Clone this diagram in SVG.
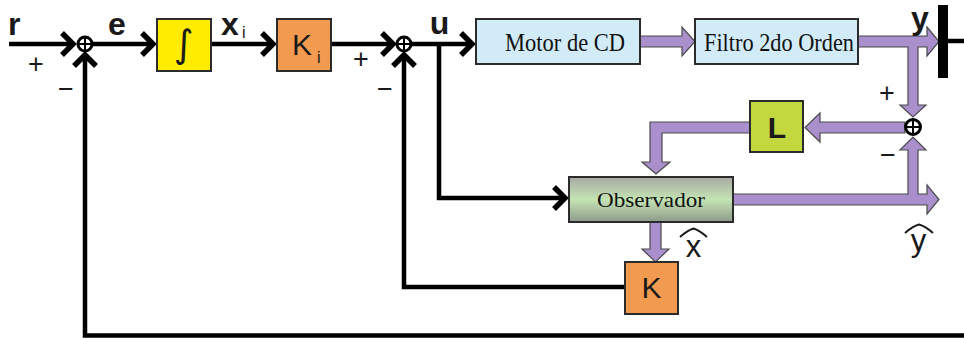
<svg xmlns="http://www.w3.org/2000/svg" width="964" height="340" viewBox="0 0 964 340">
  <style>
    .wire { fill: none; stroke: #000; stroke-width: 4.5; }
    .band { fill: #A98FCC; stroke: #4a4a4a; stroke-width: 1.2; stroke-linejoin: miter; }
    .box { stroke: #2b2b2b; stroke-width: 2; }
    .sum { fill: #fff; stroke: #000; stroke-width: 3; }
    .cross { stroke: #000; stroke-width: 2; }
    .sig { font-family: "Liberation Sans", Arial, sans-serif; font-weight: bold; font-size: 32px; fill: #1a1a1a; }
    .sign { font-family: "Liberation Sans", Arial, sans-serif; font-size: 27px; fill: #1a1a1a; text-anchor: middle; }
    .gain { font-family: "Liberation Sans", Arial, sans-serif; font-size: 30px; fill: #1a1a1a; }
    .sub { font-family: "Liberation Sans", Arial, sans-serif; font-size: 16px; fill: #1a1a1a; }
    .block { font-family: "Liberation Serif", "Times New Roman", serif; fill: #111; text-anchor: middle; }
    .hat { fill: none; stroke: #1a1a1a; stroke-width: 2; }
  </style>
  <defs>
    <marker id="chev" markerUnits="userSpaceOnUse" viewBox="-16 -16 20 32" refX="0" refY="0" markerWidth="20" markerHeight="32" orient="auto" overflow="visible">
      <path d="M-11,-11 L0,0 L-11,11" fill="none" stroke="#000" stroke-width="5.5" stroke-linejoin="miter"/>
    </marker>
    <linearGradient id="obsFill" x1="0" y1="0" x2="0" y2="1">
      <stop offset="0" stop-color="#A8A8A3"/>
      <stop offset="0.5" stop-color="#C4E4B4"/>
      <stop offset="1" stop-color="#8E9A8A"/>
    </linearGradient>
  </defs>

  <!-- connectors -->
  <g id="connectors">
    <path class="wire" d="M9,44 H73" marker-end="url(#chev)"/>
    <path class="wire" d="M92,44 H153" marker-end="url(#chev)"/>
    <path class="wire" d="M211,44 H273" marker-end="url(#chev)"/>
    <path class="wire" d="M331,44 H393" marker-end="url(#chev)"/>
    <path class="wire" d="M411,44 H472" marker-end="url(#chev)"/>
    <path class="wire" d="M439,44 V198 H565" marker-end="url(#chev)"/>
    <path class="wire" d="M625,287 H404 V55" marker-end="url(#chev)"/>
    <path class="wire" d="M964,335.5 H85 V55" marker-end="url(#chev)"/>
    <path class="wire" d="M948,41 H964"/>

    <!-- signal bands -->
    <polygon class="band" points="640,36 682,36 682,27 695,41.5 682,56 682,47 640,47"/>
    <polygon class="band" points="858,36 927,36 927,27 939,41.5 927,56 927,47 918,47 918,105 926,105 913,117 900,105 908,105 908,47 858,47"/>
    <polygon class="band" points="905,122 820,122 820,113 805,127.5 820,142 820,133 905,133"/>
    <polygon class="band" points="750,122 650,122 650,162 642,162 656,174 670,162 662,162 662,133 750,133"/>
    <polygon class="band" points="733,194 908,194 908,150 900,150 913,137 926,150 918,150 918,194 927,194 927,185 939,199.5 927,214 927,205 733,205"/>
    <polygon class="band" points="650,222 661,222 661,249 669,249 655.5,262 642,249 650,249"/>
  </g>

  <!-- output bar -->
  <rect x="938" y="5" width="10" height="73" fill="#000"/>

  <!-- summing junctions -->
  <g id="sum1">
    <circle class="sum" cx="85" cy="44" r="7"/>
    <path class="cross" d="M78,44 H92 M85,37 V51"/>
  </g>
  <g id="sum2">
    <circle class="sum" cx="404" cy="44" r="7"/>
    <path class="cross" d="M397,44 H411 M404,37 V51"/>
  </g>
  <g id="sum3">
    <circle class="sum" cx="913" cy="127" r="7.5"/>
    <path class="cross" d="M905.5,127 H920.5 M913,119.5 V134.5"/>
  </g>

  <!-- blocks -->
  <g id="integrator">
    <rect class="box" x="157" y="19" width="54" height="52" fill="#FFEC00"/>
    <text x="184" y="57" font-family="DejaVu Sans, sans-serif" font-size="38" text-anchor="middle" fill="#1a1a1a">∫</text>
  </g>
  <g id="Ki">
    <rect class="box" x="277" y="19" width="54" height="52" fill="#F19A50"/>
    <text class="gain" x="292" y="55">K</text>
    <text class="sub" x="317" y="63">i</text>
  </g>
  <g id="motor">
    <rect class="box" x="476" y="19" width="164" height="45" fill="#D2ECF7"/>
    <text class="block" x="565" y="51" font-size="25" textLength="120" lengthAdjust="spacingAndGlyphs">Motor de CD</text>
  </g>
  <g id="filtro">
    <rect class="box" x="695" y="19" width="163" height="45" fill="#D2ECF7"/>
    <text class="block" x="779" y="51" font-size="25" textLength="150" lengthAdjust="spacingAndGlyphs">Filtro 2do Orden</text>
  </g>
  <g id="L">
    <rect class="box" x="750" y="101" width="53" height="51" fill="#C3D73E"/>
    <text class="gain" x="777" y="138" font-weight="bold" text-anchor="middle">L</text>
  </g>
  <g id="observador">
    <rect class="box" x="569" y="177" width="164" height="45" fill="url(#obsFill)"/>
    <text class="block" x="651" y="207" font-size="22" textLength="108" lengthAdjust="spacingAndGlyphs">Observador</text>
  </g>
  <g id="K">
    <rect class="box" x="625" y="262" width="53" height="52" fill="#F19A50"/>
    <text class="gain" x="651.5" y="298" text-anchor="middle">K</text>
  </g>

  <!-- signal labels -->
  <g id="labels">
    <text class="sig" x="8" y="35">r</text>
    <text class="sig" x="117" y="35" text-anchor="middle">e</text>
    <text class="sig" x="230" y="35" text-anchor="middle">x</text>
    <text class="sub" x="242" y="38">i</text>
    <text class="sig" x="439.5" y="34" text-anchor="middle">u</text>
    <text class="sig" x="920" y="29" font-size="28" text-anchor="middle">y</text>

    <text class="sign" x="36" y="73">+</text>
    <text class="sign" x="66" y="98">−</text>
    <text class="sign" x="361" y="68">+</text>
    <text class="sign" x="385" y="98">−</text>
    <text class="sign" x="887" y="102">+</text>
    <text class="sign" x="888" y="164">−</text>

    <text x="693.5" y="257" font-family="Liberation Sans, Arial, sans-serif" font-size="31" text-anchor="middle" fill="#1a1a1a">x</text>
    <path class="hat" d="M680,237 Q688,230 693.5,228.5 Q699,230 707,237"/>
    <text x="918.5" y="251" font-family="Liberation Sans, Arial, sans-serif" font-size="31" text-anchor="middle" fill="#1a1a1a">y</text>
    <path class="hat" d="M905,233 Q913,226 919,224.5 Q925,226 933,233"/>
  </g>
</svg>
